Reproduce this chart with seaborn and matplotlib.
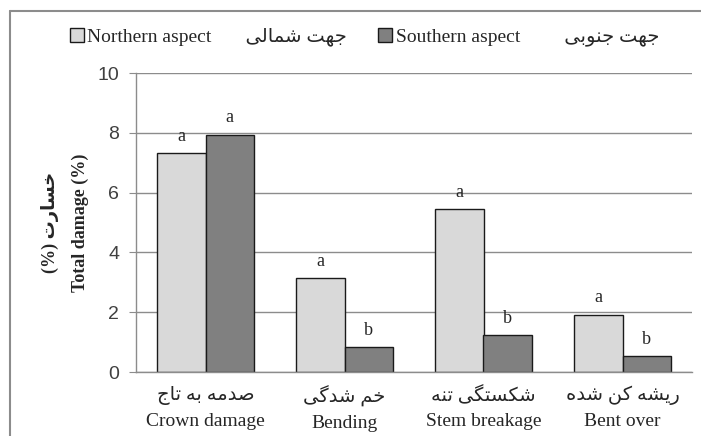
import matplotlib
matplotlib.use("Agg")
import matplotlib.pyplot as plt
from matplotlib.lines import Line2D
import pandas as pd
import seaborn as sns

categories_en = ["Crown damage", "Bending", "Stem breakage", "Bent over"]
categories_fa = ["صدمه به تاج", "خم شدگی", "شکستگی تنه", "ریشه کن شده"]
aspects = ["Northern aspect", "Southern aspect"]
aspects_fa = ["جهت شمالی", "جهت جنوبی"]
northern = [7.31, 3.13, 5.44, 1.92]
southern = [7.94, 0.83, 1.24, 0.54]
northern_letters = ["a", "a", "a", "a"]
southern_letters = ["a", "b", "b", "b"]
ylabel_en = "Total damage (%)"
ylabel_fa = "خسارت (%)"

# arabic presentation forms: isolated, final, initial, medial
FORMS = {
    "ا": ("\uFE8D", "\uFE8E", None, None),
    "ب": ("\uFE8F", "\uFE90", "\uFE91", "\uFE92"),
    "ت": ("\uFE95", "\uFE96", "\uFE97", "\uFE98"),
    "ج": ("\uFE9D", "\uFE9E", "\uFE9F", "\uFEA0"),
    "خ": ("\uFEA5", "\uFEA6", "\uFEA7", "\uFEA8"),
    "د": ("\uFEA9", "\uFEAA", None, None),
    "ر": ("\uFEAD", "\uFEAE", None, None),
    "س": ("\uFEB1", "\uFEB2", "\uFEB3", "\uFEB4"),
    "ش": ("\uFEB5", "\uFEB6", "\uFEB7", "\uFEB8"),
    "ص": ("\uFEB9", "\uFEBA", "\uFEBB", "\uFEBC"),
    "ل": ("\uFEDD", "\uFEDE", "\uFEDF", "\uFEE0"),
    "م": ("\uFEE1", "\uFEE2", "\uFEE3", "\uFEE4"),
    "ن": ("\uFEE5", "\uFEE6", "\uFEE7", "\uFEE8"),
    "ه": ("\uFEE9", "\uFEEA", "\uFEEB", "\uFEEC"),
    "و": ("\uFEED", "\uFEEE", None, None),
    "ک": ("\uFB8E", "\uFB8F", "\uFB90", "\uFB91"),
    "گ": ("\uFB92", "\uFB93", "\uFB94", "\uFB95"),
    "ی": ("\uFBFC", "\uFBFD", "\uFBFE", "\uFBFF"),
}


def shape_word(word):
    out = []
    for i, c in enumerate(word):
        if c not in FORMS:
            out.append(c)
            continue
        prev = word[i - 1] if i > 0 else None
        nxt = word[i + 1] if i + 1 < len(word) else None
        join_prev = prev in FORMS and FORMS[prev][2] is not None
        join_next = nxt in FORMS and FORMS[c][2] is not None
        iso, fin, ini, med = FORMS[c]
        if join_prev and join_next:
            out.append(med)
        elif join_prev:
            out.append(fin)
        elif join_next:
            out.append(ini)
        else:
            out.append(iso)
    if any(c in FORMS for c in word):
        out.reverse()
    return "".join(out)


def fa(text):
    # shape each word and lay the words out right to left
    return " ".join(shape_word(w) for w in reversed(text.split(" ")))


SERIF = ["Liberation Serif", "DejaVu Sans"]
SANS = ["Liberation Sans", "DejaVu Sans"]

df = pd.DataFrame({
    "category": categories_en * 2,
    "aspect": [aspects[0]] * 4 + [aspects[1]] * 4,
    "damage": northern + southern,
})

sns.set_style("white")
plt.rcParams["font.family"] = SERIF

fig = plt.figure(figsize=(7.01, 4.36), dpi=100)
ax = fig.add_axes([136 / 701, 64 / 436, 556 / 701, 299 / 436])

sns.barplot(
    data=df, x="category", y="damage", hue="aspect",
    order=categories_en, hue_order=aspects,
    palette=["#d9d9d9", "#808080"], width=0.7,
    edgecolor="#1a1a1a", linewidth=1, ax=ax, legend=False,
)

# significance letters above bars
for container, letters in zip(ax.containers, [northern_letters, southern_letters]):
    ax.bar_label(container, labels=letters, padding=6, fontsize=13, family=SERIF)

ax.set_xlim(-0.5, 3.5)
ax.set_ylim(0, 10)
ax.set_yticks(range(0, 11, 2))
ax.yaxis.grid(True, color="#8c8c8c", linewidth=1)
ax.set_axisbelow(True)
for s in ["top", "right"]:
    ax.spines[s].set_visible(False)
for s in ["left", "bottom"]:
    ax.spines[s].set_color("#8c8c8c")
    ax.spines[s].set_linewidth(1)

ax.set_xticks(range(4))
ax.set_xticklabels([fa(f) + "\n" + e for f, e in zip(categories_fa, categories_en)],
                   fontsize=14, linespacing=1.6)
ax.set_xticks([-0.5, 0.5, 1.5, 2.5, 3.5], minor=True)
ax.tick_params(axis="x", which="major", length=0, pad=10)
ax.tick_params(axis="x", which="minor", length=5, color="#8c8c8c", direction="out")
ax.tick_params(axis="y", length=5, color="#8c8c8c", direction="out", pad=7,
               labelsize=14, labelcolor="#404040", left=True)
for t in ax.get_yticklabels():
    t.set_family(SANS)

ax.set_xlabel("")
ax.set_ylabel(fa(ylabel_fa) + "\n" + ylabel_en, fontsize=13, fontweight="bold",
              linespacing=2.0, labelpad=6)

handles = [ax.containers[0].patches[0], ax.containers[1].patches[0]]
labels = [aspects[0] + "       " + fa(aspects_fa[0]),
          aspects[1] + "         " + fa(aspects_fa[1])]
fig.legend(handles, labels, loc="center", bbox_to_anchor=(0.52, 1 - 37 / 436),
           ncol=2, frameon=False, prop={"family": SERIF, "size": 14},
           handlelength=0.7, handleheight=0.7, handletextpad=0.2, columnspacing=1.6)

# outer frame (top and left edges visible)
fig.add_artist(Line2D([10 / 701, 1], [1 - 11 / 436, 1 - 11 / 436], color="#8c8c8c", lw=1.5))
fig.add_artist(Line2D([10 / 701, 10 / 701], [0, 1 - 11 / 436], color="#8c8c8c", lw=1.5))

fig.savefig("out.png", dpi=100)
plt.close(fig)
